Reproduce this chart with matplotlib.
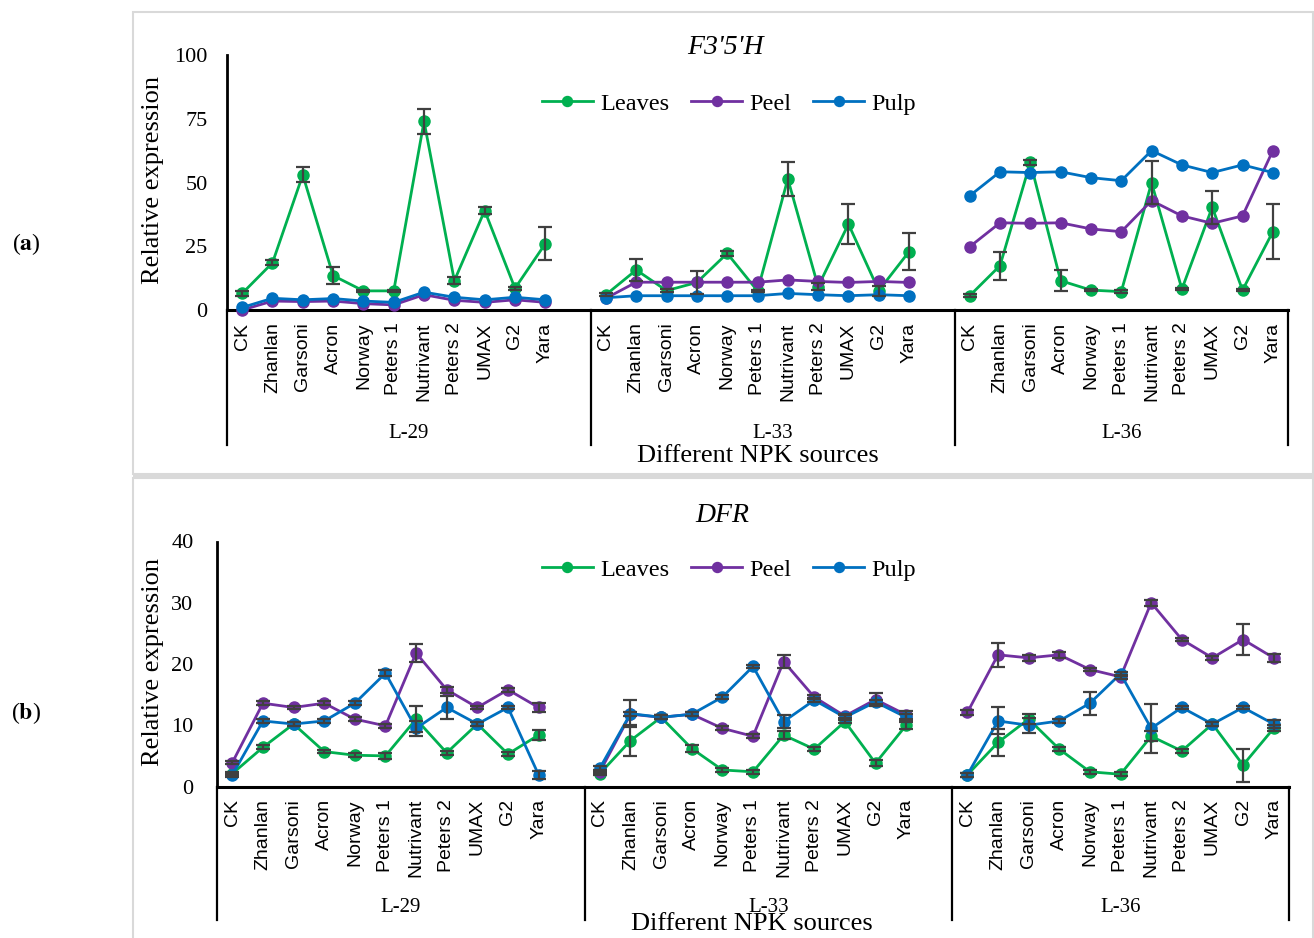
import numpy as np
import matplotlib.pyplot as plt
import matplotlib.transforms as mtransforms
from matplotlib.patches import Rectangle

plt.rcParams['font.family'] = ['Liberation Serif', 'DejaVu Serif']
plt.rcParams['mathtext.fontset'] = 'stix'

# categories
cats = ["CK", "Zhanlan", "Garsoni", "Acron", "Norway", "Peters 1",
        "Nutrivant", "Peters 2", "UMAX", "G2", "Yara"]
groups = ["L-29", "L-33", "L-36"]

# F3'5'H relative expression
f_leaves = [6.5, 18.5, 53, 13.5, 7.5, 7.5, 74, 11.5, 39, 8.5, 26,
            6, 15.7, 7.6, 10.8, 22.2, 7.5, 51.4, 9.2, 33.7, 7.6, 22.9,
            5.6, 17.4, 57.9, 11.5, 7.8, 7.2, 49.9, 8.2, 40.3, 7.8, 30.7]
f_leaves_err = [1, 1, 3, 3.5, 0.5, 0.5, 5, 1.5, 1.5, 0.5, 6.5,
                0.5, 4.2, 0.5, 4.5, 1, 0.5, 6.7, 1.5, 7.8, 2, 7.2,
                0.5, 5.5, 1, 4.2, 0.5, 0.5, 8.5, 0.5, 6.4, 0.5, 10.8]
f_peel = [0, 3.5, 3.3, 3.5, 2.5, 2, 6, 3.8, 3, 4, 3,
          4.6, 10.9, 10.9, 10.9, 10.9, 10.9, 11.8, 11.2, 10.8, 11.2, 10.8,
          24.8, 34.2, 34.0, 34.2, 31.8, 30.7, 42.9, 36.9, 34.0, 36.9, 62.5]
f_pulp = [1, 4.6, 4, 4.5, 3.5, 3, 7, 5, 4, 5, 4,
          4.8, 5.6, 5.6, 5.6, 5.6, 5.6, 6.5, 6, 5.6, 6, 5.6,
          44.8, 54.2, 53.9, 54.2, 51.9, 50.7, 62.5, 56.9, 53.9, 56.9, 53.9]

# DFR relative expression
d_leaves = [2.1, 6.4, 10.2, 5.7, 5.1, 5.0, 11.0, 5.5, 10.2, 5.3, 8.4,
            2.1, 7.5, 11.3, 6.2, 2.7, 2.4, 8.4, 6.1, 10.6, 3.8, 10.0,
            1.9, 7.2, 11.0, 6.1, 2.4, 2.0, 8.2, 5.8, 10.2, 3.5, 9.5]
d_leaves_err = [0.3, 0.3, 0.3, 0.3, 0.3, 0.5, 2.1, 0.3, 0.3, 0.3, 0.8,
                0.3, 2.5, 0.3, 0.5, 0.3, 0.3, 0.6, 0.3, 0.3, 0.5, 0.6,
                0.3, 2.2, 0.8, 0.3, 0.3, 0.3, 0.8, 0.3, 0.3, 2.7, 0.5]
d_peel = [3.9, 13.6, 12.9, 13.6, 11.0, 9.9, 21.8, 15.8, 12.9, 15.8, 12.9,
          2.4, 11.8, 11.3, 11.8, 9.5, 8.2, 20.4, 14.6, 11.5, 14.2, 11.7,
          12.1, 21.5, 21.0, 21.5, 19.1, 17.9, 30.0, 24.0, 21.0, 24.0, 21.0]
d_peel_err = [0.3, 0.3, 0.3, 0.3, 0.3, 0.3, 1.5, 0.5, 0.3, 0.3, 0.7,
              0.3, 0.3, 0.3, 0.3, 0.3, 0.3, 1.0, 0.3, 0.3, 1.0, 0.7,
              0.4, 2.0, 0.5, 0.5, 0.3, 0.3, 0.5, 0.3, 0.3, 2.5, 0.7]
d_pulp = [1.9, 10.7, 10.2, 10.7, 13.6, 18.5, 9.5, 12.9, 10.2, 12.9, 1.9,
          3.0, 11.9, 11.3, 11.8, 14.6, 19.6, 10.6, 14.1, 11.3, 13.8, 11.3,
          1.9, 10.7, 10.0, 10.7, 13.6, 18.4, 9.5, 12.9, 10.2, 12.9, 10.2]
d_pulp_err = [0.3, 0.3, 0.3, 0.3, 0.3, 0.5, 1.2, 1.8, 0.3, 0.3, 0.7,
              0.3, 2.2, 0.3, 0.3, 0.3, 0.3, 1.0, 0.3, 0.3, 0.3, 0.5,
              0.3, 2.2, 1.2, 0.3, 1.85, 0.3, 4.0, 0.3, 0.3, 0.3, 0.7]

GREEN = '#00B050'
PURPLE = '#7030A0'
BLUE = '#0070C0'
ERRC = '#404040'

W, H = 1314, 938


def fx(x):
    return x / W


def fy(y):
    return 1 - y / H


fig = plt.figure(figsize=(13.14, 9.38), dpi=100)

# panel frames
fig.patches.append(Rectangle((fx(133), fy(474)), fx(1313) - fx(133), fy(12) - fy(474),
                             transform=fig.transFigure, fill=False, ec='#D9D9D9', lw=1.5))
fig.patches.append(Rectangle((fx(133), fy(478)), fx(1314) - fx(133), 5 / H,
                             transform=fig.transFigure, fc='#D9D9D9', ec='none'))
fig.patches.append(Rectangle((fx(133), fy(945)), fx(1313) - fx(133), fy(478) - fy(945),
                             transform=fig.transFigure, fill=False, ec='#D9D9D9', lw=1.5))


def panel(left, right, y0, ytop, ymax, yticks, series, title, title_xy, leg_y,
          sep_y, grp_y, xlab_xy, ylab_x, ypad):
    ax = fig.add_axes([fx(left), fy(y0), fx(right) - fx(left), fy(ytop) - fy(y0)])
    n = len(cats)
    slot = n + 1  # Excel leaves one empty category after each group
    x = np.concatenate([g * slot + np.arange(n) for g in range(len(groups))])
    for label, color, vals, errs in series:
        vals = np.array(vals)
        for g in range(len(groups)):
            s = slice(g * n, (g + 1) * n)
            ax.plot(x[s], vals[s], color=color, lw=2, marker='o', ms=8,
                    label=label if g == 0 else None, clip_on=False, zorder=3)
        if errs is not None:
            ax.errorbar(x, vals, yerr=errs, fmt='none', ecolor=ERRC,
                        elinewidth=1.6, capsize=5, capthick=1.6, zorder=4, clip_on=False)
    xmax = len(groups) * slot - 1.5
    ax.set_xlim(-0.5, xmax)
    ax.set_ylim(0, ymax)
    ax.set_yticks(yticks)
    ax.tick_params(axis='y', length=0, labelsize=16, pad=ypad)
    ax.set_xticks(x)
    ax.set_xticklabels(cats * len(groups), rotation=90, fontsize=14,
                       family=['Liberation Sans', 'DejaVu Sans'])
    ax.tick_params(axis='x', length=0, pad=9)
    for sp in ['top', 'right']:
        ax.spines[sp].set_visible(False)
    ax.spines['bottom'].set_linewidth(2.2)
    ax.spines['left'].set_linewidth(2)
    ax.patch.set_alpha(0)

    # multi-level category axis
    trans = mtransforms.blended_transform_factory(ax.transData, ax.transAxes)
    ybot = (y0 - sep_y) / (y0 - ytop)
    seps = [g * slot - 0.5 for g in range(len(groups))] + [xmax]
    for sx in seps:
        ax.plot([sx, sx], [0, ybot], color='black', lw=1.6,
                transform=trans, clip_on=False)
    ygl = (y0 - grp_y) / (y0 - ytop)
    for g, name in enumerate(groups):
        ax.text((seps[g] + seps[g + 1]) / 2, ygl, name, transform=trans, ha='center',
                va='center', fontsize=15)

    fig.text(fx(xlab_xy[0]), fy(xlab_xy[1]), 'Different NPK sources', ha='center',
             va='center', fontsize=19)
    fig.text(fx(ylab_x), fy((y0 + ytop) / 2 - 2), 'Relative expression', rotation=90,
             ha='center', va='center', fontsize=19)
    fig.text(fx(title_xy[0]), fy(title_xy[1]), title, ha='center', va='center',
             fontsize=20, style='italic')
    ax.legend(loc='center', bbox_to_anchor=(fx(729), fy(leg_y)),
              bbox_transform=fig.transFigure, ncol=3, frameon=False, fontsize=17.5,
              handlelength=2.1, handletextpad=0.3, columnspacing=0.9, markerscale=0.9)
    return ax


panel(227, 1288, 310, 55, 100, [0, 25, 50, 75, 100],
      [('Leaves', GREEN, f_leaves, f_leaves_err),
       ('Peel', PURPLE, f_peel, None),
       ('Pulp', BLUE, f_pulp, None)],
      "F3'5'H", (725, 48), 104, 445, 433, (758, 456), 153, 14)

panel(217, 1289, 786.5, 541.5, 40, [0, 10, 20, 30, 40],
      [('Leaves', GREEN, d_leaves, d_leaves_err),
       ('Peel', PURPLE, d_peel, d_peel_err),
       ('Pulp', BLUE, d_pulp, d_pulp_err)],
      'DFR', (722, 515), 570, 920, 908, (752, 924), 153, 17)

fig.text(fx(26), fy(244), r'($\mathbf{a}$)', ha='center', va='center', fontsize=17)
fig.text(fx(26), fy(713), r'($\mathbf{b}$)', ha='center', va='center', fontsize=17)

fig.savefig('out.png', dpi=100)
